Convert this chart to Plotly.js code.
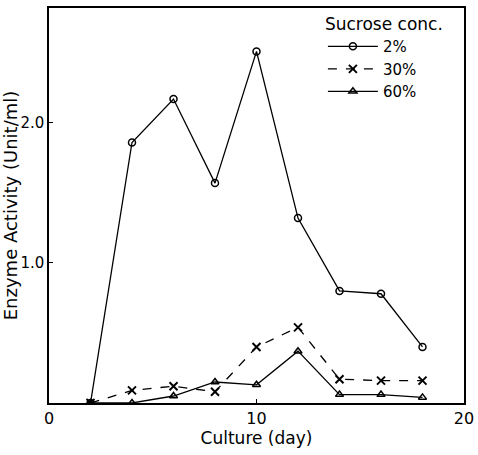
<!DOCTYPE html>
<html>
<head>
<meta charset="utf-8">
<script src="https://cdn.plot.ly/plotly-3.0.1.min.js"></script>
<style>html,body{margin:0;padding:0;background:#fff;}#chart{width:478px;height:455px;}</style>
</head>
<body>
<div id="chart"></div>
<script>
const days = [2, 4, 6, 8, 10, 12, 14, 16, 18];
const sucrose2 = [0, 1.86, 2.17, 1.57, 2.51, 1.32, 0.80, 0.78, 0.40];
const sucrose30 = [0, 0.09, 0.12, 0.08, 0.40, 0.54, 0.17, 0.16, 0.16];
const sucrose60 = [0, 0.0, 0.05, 0.15, 0.13, 0.37, 0.06, 0.06, 0.04];
const seriesNames = ['2%', '30%', '60%'];
const xTicks = [0, 10, 20];
const xTickText = ['0', '10', '20'];
const yTicks = [1, 2];
const yTickText = ['1.0', '2.0'];

const font = 'DejaVu Sans, sans-serif';
const traces = [
  {x: days, y: sucrose2, name: seriesNames[0], mode: 'lines+markers',
   line: {color: '#000', width: 1.3},
   marker: {symbol: 'circle-open', size: 7, color: '#000', line: {width: 1.5}}},
  {x: days, y: sucrose30, name: seriesNames[1], mode: 'lines+markers',
   line: {color: '#000', width: 1.3, dash: 'dash'},
   marker: {symbol: 'x-thin-open', size: 8, color: '#000', line: {width: 2}}},
  {x: days, y: sucrose60, name: seriesNames[2], mode: 'lines+markers',
   line: {color: '#000', width: 1.3},
   marker: {symbol: 'triangle-up-open', size: 7, color: '#000', line: {width: 1.5}}}
];

const layout = {
  width: 478, height: 455,
  margin: {l: 49, r: 14, t: 8, b: 52},
  paper_bgcolor: '#fff', plot_bgcolor: '#fff',
  font: {family: font, color: '#000', size: 14},
  showlegend: true,
  legend: {x: 0.66, y: 1.0, xanchor: 'left', yanchor: 'top',
           bgcolor: 'rgba(0,0,0,0)', borderwidth: 0,
           font: {family: font, size: 15, color: '#000'},
           title: {text: 'Sucrose conc.', side: 'top', font: {family: font, size: 17, color: '#000'}},
           tracegroupgap: 0, itemwidth: 50},
  xaxis: {range: [0, 20], tickvals: xTicks, ticktext: xTickText,
          showline: true, mirror: true, linecolor: '#000', linewidth: 1.6,
          ticks: 'inside', ticklen: 4, tickcolor: '#000', showgrid: false, zeroline: false,
          tickfont: {family: font, size: 16},
          title: {text: 'Culture (day)', font: {family: font, size: 17}, standoff: 4}},
  yaxis: {range: [0, 2.82], tickvals: yTicks, ticktext: yTickText,
          showline: true, mirror: true, linecolor: '#000', linewidth: 1.6,
          ticks: 'inside', ticklen: 4, tickcolor: '#000', showgrid: false, zeroline: false,
          tickfont: {family: font, size: 15},
          title: {text: 'Enzyme Activity (Unit/ml)', font: {family: font, size: 18}, standoff: 4}}
};

Plotly.newPlot('chart', traces, layout, {staticPlot: true, displayModeBar: false});
</script>
</body>
</html>
